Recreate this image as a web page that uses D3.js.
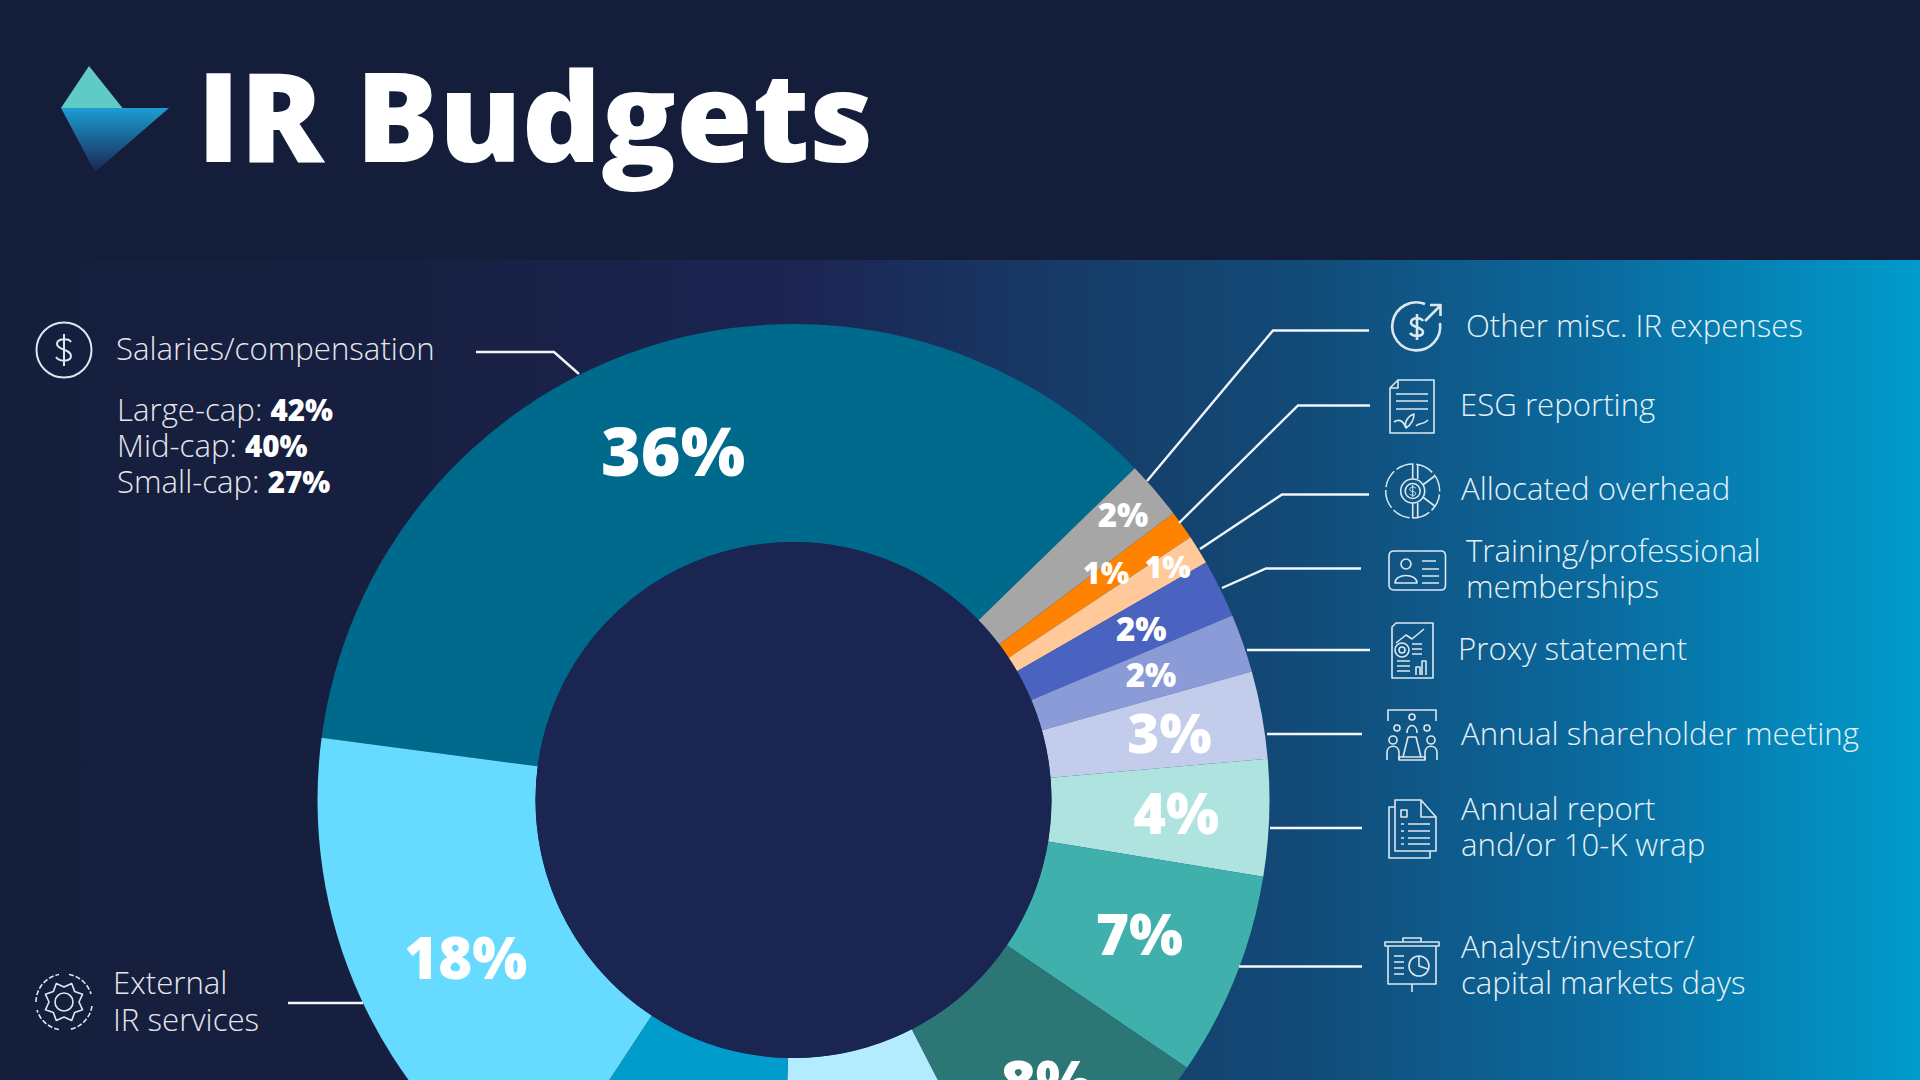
<!DOCTYPE html>
<html><head><meta charset="utf-8">
<script src="https://cdn.jsdelivr.net/npm/d3@7/dist/d3.min.js"></script>
<style>html,body{margin:0;padding:0;background:#141e3a;overflow:hidden}svg{display:block}text{font-family:"Open Sans",sans-serif}</style>
</head><body>
<script>
const categories=["Salaries/compensation","Other misc. IR expenses","ESG reporting","Allocated overhead","Training/professional memberships","Proxy statement","Annual shareholder meeting","Annual report and/or 10-K wrap","Analyst/investor/capital markets days","Dark teal (label cut off)","Pale blue (hidden)","Bright blue (hidden)","External IR services"];
const values=[36,2,1,1,2,2,3,4,7,8,8,9,18];
const colors=["#006a8c","#a6a6a6","#ff8300","#ffc999","#4a62c0","#8a9bd8","#c3cceb","#aee3df","#3fb0ac","#2d7676","#b3ecff","#009ccc","#66daff"];
// layout tables (label nudge from the slice centroid, and size); null = label outside the picture
const labelNudge=[[-5,0],[51,-46],[13,-15],[62,-40],[19,-8],[11,-4],[15,-1],[16,0],[5,-1],[10,8],null,null,[6,6]];
const labelSize=[68,33,30,30,33,33,55,56,57,60,0,0,58];
const capBreakdown=[["Large-cap: ","42%",421],["Mid-cap: ","40%",457],["Small-cap: ","27%",493]];

const W=1920,H=1080,cx=793.5,cy=800,rI=258,rO=476;
const svg=d3.select("body").append("svg").attr("width",W).attr("height",H);
const defs=svg.append("defs");
const bg=defs.append("linearGradient").attr("id","bg");
[[0,"#151f3c"],[.2,"#171f40"],[.42,"#1c2553"],[.55,"#173a66"],[.68,"#124b78"],[.84,"#0a6ca0"],[1,"#009ccc"]]
 .forEach(s=>bg.append("stop").attr("offset",s[0]).attr("stop-color",s[1]));
const lg=defs.append("linearGradient").attr("id","logo").attr("x1",0).attr("x2",0).attr("y1",0).attr("y2",1);
lg.append("stop").attr("offset",0).attr("stop-color","#1a9ed2");
lg.append("stop").attr("offset",1).attr("stop-color","#1b2552");

svg.append("rect").attr("width",W).attr("height",H).attr("fill","#141e3a");
svg.append("rect").attr("y",260).attr("width",W).attr("height",H-260).attr("fill","url(#bg)");

// logo + title
svg.append("path").attr("d","M89,66L61,108L122.5,108Z").attr("fill","#5fcac6");
svg.append("path").attr("d","M61,108L169,108L95,172Z").attr("fill","url(#logo)");
svg.append("text").attr("x",197).attr("y",162).attr("font-size",123.6).attr("font-weight",800).attr("fill","#fff").text("IR Budgets");

// donut
const pie=d3.pie().sort(null).startAngle(-82.5*Math.PI/180).endAngle((360-82.5)*Math.PI/180);
const arc=d3.arc().innerRadius(rI).outerRadius(rO);
const arcs=pie(values);
const g=svg.append("g").attr("transform",`translate(${cx},${cy})`);
g.selectAll("path").data(arcs).join("path").attr("d",arc).attr("fill",(d,i)=>colors[i]);
svg.append("circle").attr("cx",cx).attr("cy",cy).attr("r",rI).attr("fill","#1b2552");
g.selectAll("text").data(arcs.filter((d,i)=>labelNudge[i])).join("text")
 .attr("text-anchor","middle").attr("fill","#fff").attr("font-weight",800)
 .attr("font-size",d=>labelSize[d.index])
 .attr("x",d=>arc.centroid(d)[0]+labelNudge[d.index][0])
 .attr("y",d=>arc.centroid(d)[1]+labelNudge[d.index][1]+labelSize[d.index]*.357)
 .text(d=>d.value+"%");

// leaders
const leaders=[
 [[476,352],[554,352],[579,374]],
 [[288,1003],[363,1003]],
 [[1147,481],[1273,330.5],[1369,330.5]],
 [[1179,523],[1298,405.5],[1370,405.5]],
 [[1200,549],[1282,494.5],[1369,494.5]],
 [[1222,588],[1266,568.5],[1361,568.5]],
 [[1247,650],[1370,650]],
 [[1267,734],[1362,734]],
 [[1270,828],[1362,828]],
 [[1239,966.5],[1362,966.5]]];
svg.append("g").attr("fill","none").attr("stroke","#f2f6f8").attr("stroke-width",2.4)
 .selectAll("path").data(leaders).join("path").attr("d",d3.line());

// labels
const labels=[
 ["Salaries/compensation",116,360,"#e4e6ec"],
 ["External",113,994,"#e4e6ec"],["IR services",113,1031,"#e4e6ec"],
 ["Other misc. IR expenses",1466,337,"#e4f0f6"],
 ["ESG reporting",1460,416,"#e4f0f6"],
 ["Allocated overhead",1461,500,"#e4f0f6"],
 ["Training/professional",1466,562,"#e4f0f6"],["memberships",1466,598,"#e4f0f6"],
 ["Proxy statement",1458,660,"#e4f0f6"],
 ["Annual shareholder meeting",1461,745,"#e4f0f6"],
 ["Annual report",1461,820,"#e4f0f6"],["and/or 10-K wrap",1461,856,"#e4f0f6"],
 ["Analyst/investor/",1461,958,"#e4f0f6"],["capital markets days",1461,994,"#e4f0f6"]];
svg.append("g").selectAll("text").data(labels).join("text")
 .attr("x",d=>d[1]).attr("y",d=>d[2]).attr("fill",d=>d[3]).attr("font-size",31.2).attr("font-weight",300).text(d=>d[0]);
const cap=svg.append("g").selectAll("text").data(capBreakdown).join("text")
 .attr("x",117).attr("y",d=>d[2]).attr("fill","#e4e6ec").attr("font-size",31.2).attr("font-weight",300);
cap.append("tspan").text(d=>d[0]);
cap.append("tspan").attr("font-weight",800).attr("fill","#fff").attr("font-size",29.5).text(d=>d[1]);

// icons
const ic=svg.append("g").attr("fill","none").attr("stroke","#dbe8ef").attr("stroke-width",1.6).attr("stroke-linejoin","round");
function P(x,y,d,extra){const p=ic.append("path").attr("transform",`translate(${x},${y})`).attr("d",d);if(extra)p.attr("stroke-width",extra);return p;}
function circ(r){return `M${-r},0A${r},${r} 0 1,0 ${r},0A${r},${r} 0 1,0 ${-r},0`;}
const dollar="M7,-8C5,-12 -7,-12 -7,-6C-7,0 7,-1 7,6C7,12 -5,12 -8,7M0,-16V16";
// salaries
P(64,350,circ(27.5),2); P(64,350,dollar,2);
// external gear
(function(){let d="";const n=8;for(let i=0;i<n*2;i++){const a=i*Math.PI/n,r=i%2?20:15;d+=(i?"L":"M")+(r*Math.cos(a)).toFixed(1)+","+(r*Math.sin(a)).toFixed(1);}P(64,1002,d+"Z");})();
P(64,1002,circ(9)); P(64,1002,"M-28,0A28,28 0 0,1 -5,-27.5M5,-27.5A28,28 0 0,1 27,-8M28,4A28,28 0 0,1 5,27.5M-5,27.5A28,28 0 0,1 -27,8").attr("stroke-dasharray","5 2");
// other misc
P(1417,327,"M8,-23A24,24 0 1,0 23,-4",2.6); P(1417,327,"M8,-6L23,-21M13,-22H23.5V-11",2.6); P(1417,327,"M6,-6C4,-10 -6,-10 -6,-4C-6,0 6,0 6,5C6,10 -4,10 -7,6M0,-13V13",2.6);
// ESG doc
P(1390,380,"M8,0H44V53H0V8ZM8,0V8H0M6,14H38M6,21H38M6,29H38"); P(1390,380,"M4,42C10,38 14,42 16,48C22,44 24,38 24,34C18,36 14,42 16,48M26,46C30,42 32,46 38,40");
// overhead
P(1412.7,491,circ(27),1.5).attr("stroke-dasharray","18 3"); P(1412.7,491,circ(12)); P(1412.7,491,circ(7.5)); P(1412.7,491,"M0,-27V-12M0,27V12M22,-15L10,-6M22,15L10,6M5,-27V-12M5,27V12");
P(1412.7,491,"M3,-3C1,-5 -3,-4 -3,-1.5C-3,1 3,0 3,2.5C3,5 -1,5 -3,3M0,-6V6",1);
// training card
P(1389,551,"M5,0H52Q56.5,0 56.5,5V34Q56.5,39 52,39H5Q0,39 0,34V5Q0,0 5,0Z"); P(1389,551,"M12,13a5,5 0 1,0 10,0a5,5 0 1,0 -10,0M6,32C6,22 28,22 28,32ZM33,10H47M33,18H50M33,25H50M33,32H50");
// proxy doc
P(1392,623,"M4,0H41V55H0V4Z"); P(1392,623,"M4,20L14,12L20,16L32,6M5,48H18M5,43H18M5,38H18M24,52V44H28V52M30,52V38H34V52");
P(1402,650,circ(7)); P(1402,650,circ(3)); P(1412,644,"M0,0H10M0,5H10M0,10H10");
// shareholder
P(1412,735,"M-24,-14V-25H24V-14M-3,-18a3,3 0 1,0 6,0a3,3 0 1,0 -6,0M-5,-2C-5,-12 5,-12 5,-2M-9,22L-4,2H4L9,22ZM-13,22H13V25H-13Z");
P(1412,735,"M-25,25V18C-25,9 -13,9 -13,18V25M25,25V18C25,9 13,9 13,18V25M-23,5a4,4 0 1,0 8,0a4,4 0 1,0 -8,0M15,5a4,4 0 1,0 8,0a4,4 0 1,0 -8,0M-18,-7a3,3 0 1,0 6,0a3,3 0 1,0 -6,0M12,-7a3,3 0 1,0 6,0a3,3 0 1,0 -6,0");
// annual report
P(1389,800,"M6,0H32L47,17V51H6ZM32,0V17H47M6,7H0V58H41V51"); P(1389,800,"M12,10H18V17H12ZM12,24H15M19,24H41M12,31H15M19,31H41M12,38H15M19,38H41M12,44H15M19,44H41");
// presentation
P(1412,966,"M-24,-20H24V18H-24ZM-27,-24H27V-20H-27ZM-9,-24V-28H9V-24M0,18V26");
P(1412,966,"M-18,-10H-8M-18,-4H-8M-18,2H-8M-18,8H-8"); P(1419,966,circ(10)); P(1419,966,"M0,-10V0L9,3");
</script>
</body></html>
